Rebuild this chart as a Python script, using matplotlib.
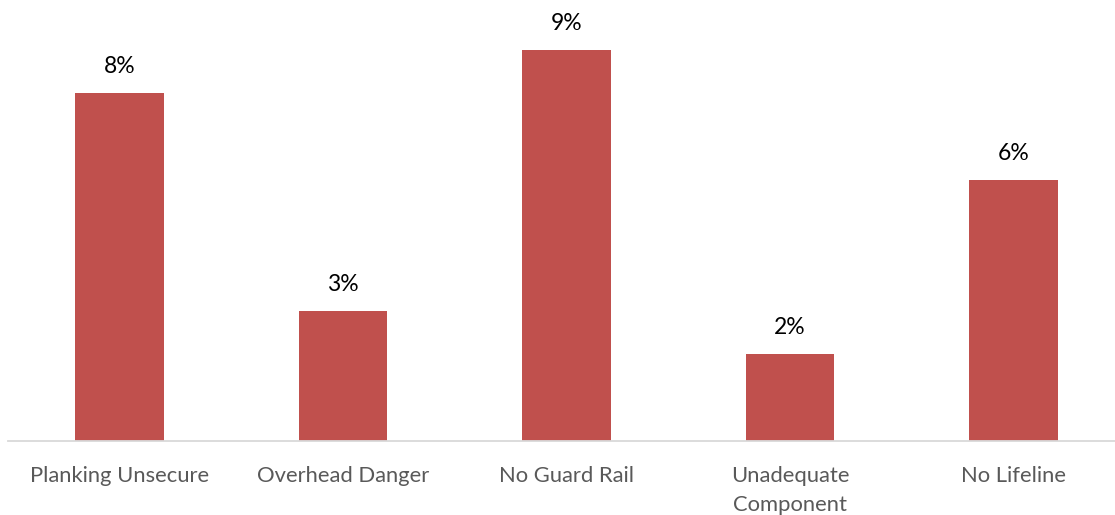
import matplotlib
matplotlib.use("Agg")
import matplotlib.pyplot as plt

categories = ["Planking Unsecure", "Overhead Danger", "No Guard Rail", "Unadequate\nComponent", "No Lifeline"]
values = [8, 3, 9, 2, 6]
value_labels = ["8%", "3%", "9%", "2%", "6%"]

plt.rcParams['font.family'] = ['Lato', 'DejaVu Sans']

W, H = 1115, 515
fig = plt.figure(figsize=(W / 100, H / 100), dpi=100)
base_px = 441.3
left_px = 7.75
ax = fig.add_axes([left_px / W, (H - base_px) / H, 1 - left_px / W, base_px / H])

x = list(range(len(categories)))
ax.bar(x, values, width=0.395, color="#C0504D", zorder=2)
ax.set_xlim(-0.5, 4.454)
ax.set_ylim(0, base_px / 43.5)

for xi, v, lab in zip(x, values, value_labels):
    ax.annotate(lab, (xi, v), xytext=(0, 16), textcoords="offset pixels",
                ha="center", va="bottom", fontsize=16.5, color="#000000")

for s in ["top", "right", "left"]:
    ax.spines[s].set_visible(False)
ax.spines["bottom"].set_color("#D9D9D9")
ax.spines["bottom"].set_linewidth(1.3)
ax.set_yticks([])
ax.set_xticks(x)
ax.set_xticklabels(categories, fontsize=15.8, color="#595959", linespacing=1.55)
ax.tick_params(axis="x", length=0, pad=18)

fig.savefig("out.png", dpi=100)
